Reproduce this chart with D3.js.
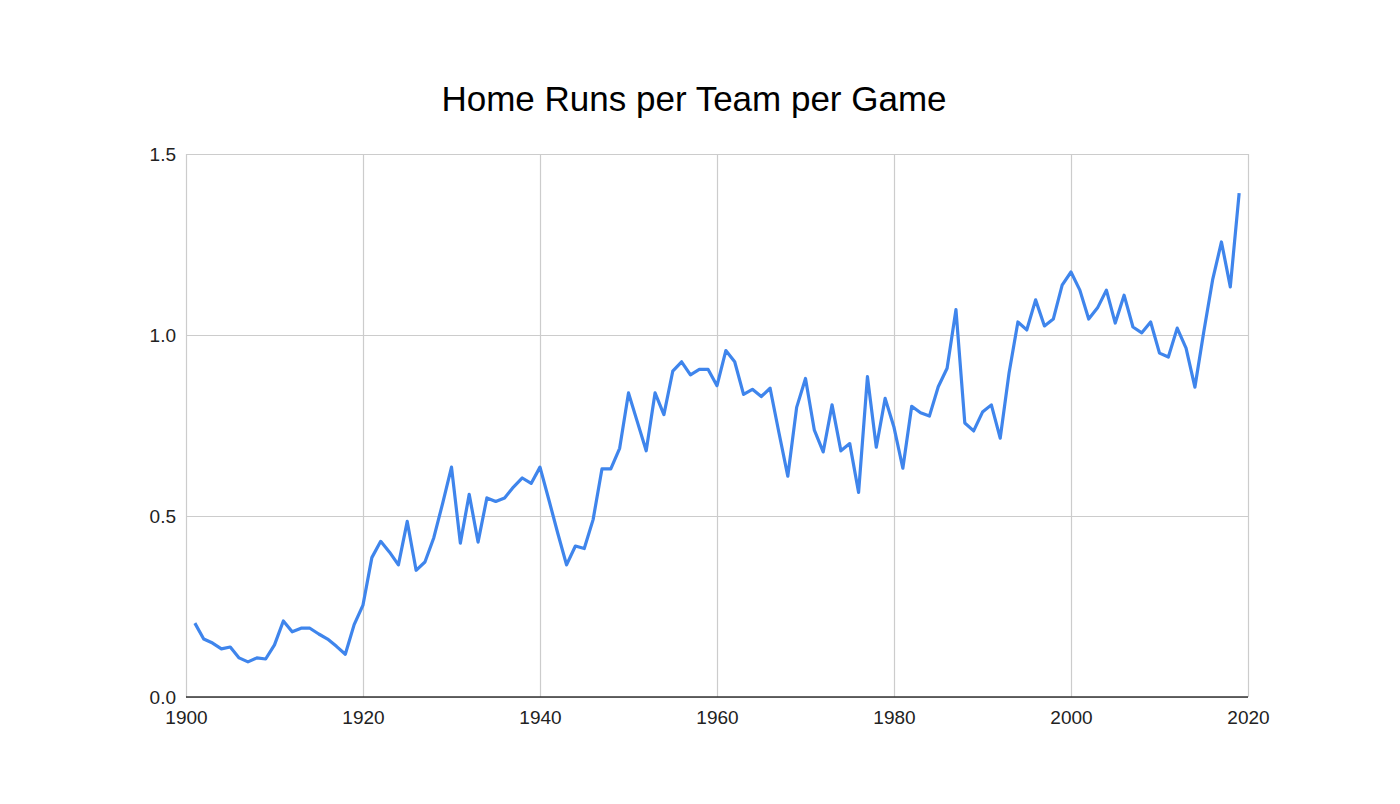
<!DOCTYPE html>
<html>
<head>
<meta charset="utf-8">
<script src="https://cdn.jsdelivr.net/npm/d3@7"></script>
<style>
  html, body { margin: 0; padding: 0; background: #ffffff; }
  svg { display: block; font-family: "Liberation Sans", Arial, sans-serif; }
</style>
</head>
<body>
<svg id="chart" width="1400" height="804"></svg>
<script>
const title = "Home Runs per Team per Game";
const years = d3.range(1901, 2020);
const homeRuns = [
  0.204, 0.160, 0.149, 0.133, 0.138, 0.108, 0.097, 0.108, 0.105, 0.144,
  0.210, 0.180, 0.190, 0.190, 0.174, 0.160, 0.140, 0.118, 0.200, 0.254,
  0.385, 0.430, 0.400, 0.365, 0.485, 0.350, 0.373, 0.440, 0.535, 0.635,
  0.425, 0.560, 0.428, 0.550, 0.540, 0.550, 0.580, 0.605, 0.590, 0.635,
  0.545, 0.453, 0.365, 0.417, 0.410, 0.490, 0.630, 0.630, 0.687, 0.840,
  0.760, 0.680, 0.840, 0.780, 0.900, 0.926, 0.890, 0.905, 0.905, 0.860,
  0.957, 0.926, 0.836, 0.850, 0.830, 0.853, 0.730, 0.610, 0.800, 0.880,
  0.737, 0.677, 0.807, 0.680, 0.700, 0.565, 0.885, 0.690, 0.825, 0.745,
  0.632, 0.803, 0.785, 0.776, 0.857, 0.908, 1.070, 0.757, 0.735, 0.787,
  0.807, 0.715, 0.895, 1.036, 1.014, 1.097, 1.025, 1.044, 1.138, 1.174,
  1.124, 1.044, 1.075, 1.124, 1.033, 1.110, 1.022, 1.006, 1.036, 0.950,
  0.939, 1.019, 0.964, 0.856, 1.008, 1.152, 1.257, 1.133, 1.392
];
const xTicks = [1900, 1920, 1940, 1960, 1980, 2000, 2020];
const yTicks = [0, 0.5, 1.0, 1.5];

const svg = d3.select("#chart");
const margin = { left: 186, right: 1400 - 1248, top: 154, bottom: 804 - 697 };
const W = 1400, H = 804;

const x = d3.scaleLinear().domain([1900, 2020]).range([margin.left, W - margin.right]);
const y = d3.scaleLinear().domain([0, 1.5]).range([H - margin.bottom, margin.top]);

svg.append("text")
  .attr("x", 694).attr("y", 98)
  .attr("text-anchor", "middle").attr("dominant-baseline", "central")
  .attr("font-size", 35).attr("fill", "#000")
  .text(title);

// horizontal gridlines
const yAxis = d3.axisLeft(y).tickValues(yTicks).tickFormat(d3.format(".1f"))
  .tickSize(-(x.range()[1] - x.range()[0])).tickPadding(10);
const gy = svg.append("g").attr("transform", `translate(${margin.left},0)`).call(yAxis);
gy.select(".domain").remove();
gy.selectAll(".tick line").attr("stroke", "#cccccc").attr("stroke-width", 1.2);
gy.selectAll(".tick text").attr("font-size", 19).attr("fill", "#222")
  .attr("font-family", "'Liberation Sans', Arial, sans-serif");

// vertical gridlines
const xAxis = d3.axisBottom(x).tickValues(xTicks).tickFormat(d3.format("d"))
  .tickSize(-(y.range()[0] - y.range()[1])).tickPadding(14);
const gx = svg.append("g").attr("transform", `translate(0,${H - margin.bottom})`).call(xAxis);
gx.select(".domain").remove();
gx.selectAll(".tick line").attr("stroke", "#cccccc").attr("stroke-width", 1.2);
gx.selectAll(".tick text").attr("font-size", 19).attr("fill", "#222")
  .attr("font-family", "'Liberation Sans', Arial, sans-serif");

// baseline
svg.append("line")
  .attr("x1", x(1900)).attr("x2", x(2020))
  .attr("y1", y(0)).attr("y2", y(0))
  .attr("stroke", "#333").attr("stroke-width", 1.5);

const line = d3.line().x((d, i) => x(years[i])).y(d => y(d));
svg.append("path")
  .datum(homeRuns)
  .attr("fill", "none")
  .attr("stroke", "#3f85ec")
  .attr("stroke-width", 3.2)
  .attr("stroke-linejoin", "round")
  .attr("d", line);
</script>
</body>
</html>
